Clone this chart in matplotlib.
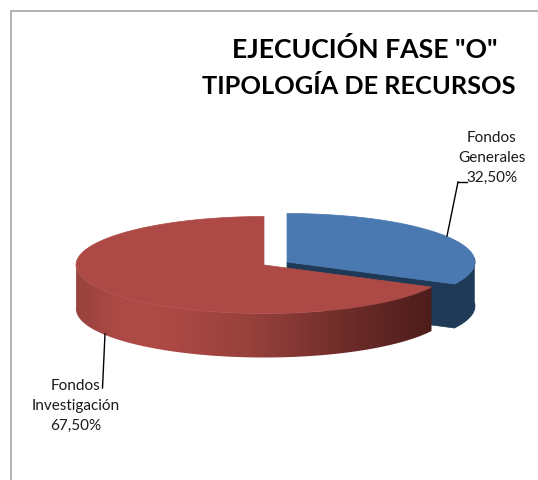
import numpy as np
import matplotlib
matplotlib.use("Agg")
import matplotlib.pyplot as plt
from matplotlib.patches import Polygon
from matplotlib.colors import LinearSegmentedColormap

title_lines = ['EJECUCIÓN FASE "O"', 'TIPOLOGÍA DE RECURSOS']
categories = ["Fondos\nGenerales", "Fondos\nInvestigación"]
values = [32.50, 67.50]
value_labels = ["32,50%", "67,50%"]

plt.rcParams['font.family'] = ['Lato', 'DejaVu Sans']
fig = plt.figure(figsize=(5.38, 4.81), dpi=100)
ax = fig.add_axes([0, 0, 1, 1])
ax.set_xlim(0, 538)
ax.set_ylim(481, 0)
ax.axis('off')

A, B, DEPTH = 188, 48.5, 44
BLUE_C = (287, 263)
RED_C = (264, 266)
split = 360 * values[0] / sum(values)


def rim(c, t0, t1, n=200, dy=0):
    t = np.radians(np.linspace(t0, t1, n))
    return np.column_stack([c[0] + A * np.sin(t), c[1] - B * np.cos(t) + dy])


# frame
ax.plot([11, 11, 538], [481, 12, 12], color='#a6a6a6', lw=1.2, solid_joinstyle='miter')

# blue slice
blue_dark = '#1f3a57'
wall = np.vstack([rim(BLUE_C, 85, split), rim(BLUE_C, split, 85, dy=DEPTH)])
ax.add_patch(Polygon(wall, fc=blue_dark, ec=blue_dark, lw=0.5))
p = rim(BLUE_C, split, split, n=1)[0]
cut = [BLUE_C, p, (p[0], p[1] + DEPTH), (BLUE_C[0], BLUE_C[1] + DEPTH)]
ax.add_patch(Polygon(cut, fc=blue_dark, ec=blue_dark, lw=0.5))
top = np.vstack([[BLUE_C], rim(BLUE_C, 0, split)])
ax.add_patch(Polygon(top, fc='#4a78b0', ec='#4a78b0', lw=0.5))

# red slice
wall = np.vstack([rim(RED_C, split, 272), rim(RED_C, 272, split, dy=DEPTH)])
patch = Polygon(wall, fc='none', ec='none')
ax.add_patch(patch)
cmap = LinearSegmentedColormap.from_list('redwall', [
    (0.00, '#98423e'), (0.12, '#ae4a45'), (0.25, '#ae4a45'),
    (0.50, '#96403c'), (0.75, '#6f2d2a'), (1.00, '#4d1d1b')])
im = ax.imshow(np.linspace(0, 1, 256)[None, :], cmap=cmap, aspect='auto',
               extent=(76, 433, 375, 215), zorder=2)
im.set_clip_path(patch)
ax.set_xlim(0, 538)
ax.set_ylim(481, 0)
top = np.vstack([[RED_C], rim(RED_C, split, 360)])
ax.add_patch(Polygon(top, fc='#ae4a45', ec='#ae4a45', lw=0.5, zorder=3))

# leader lines
ax.plot([458, 467], [183, 183], color='black', lw=1, zorder=4)
ax.plot([447, 458], [237, 183], color='black', lw=1, zorder=4)
ax.plot([105, 102.5], [335, 389], color='black', lw=1, zorder=4)

# texts
ax.text(364.5, 50, title_lines[0], fontsize=19.2, fontweight='bold', ha='center', va='center')
ax.text(359, 86.5, title_lines[1], fontsize=18.3, fontweight='bold', ha='center', va='center')
for label, val, x, y in zip(categories, value_labels, [492, 76], [158, 406]):
    ax.text(x, y, f"{label}\n{val}", fontsize=11, ha='center', va='center',
            linespacing=1.52, color='#1a1a1a')

fig.savefig('out.png', dpi=100)
